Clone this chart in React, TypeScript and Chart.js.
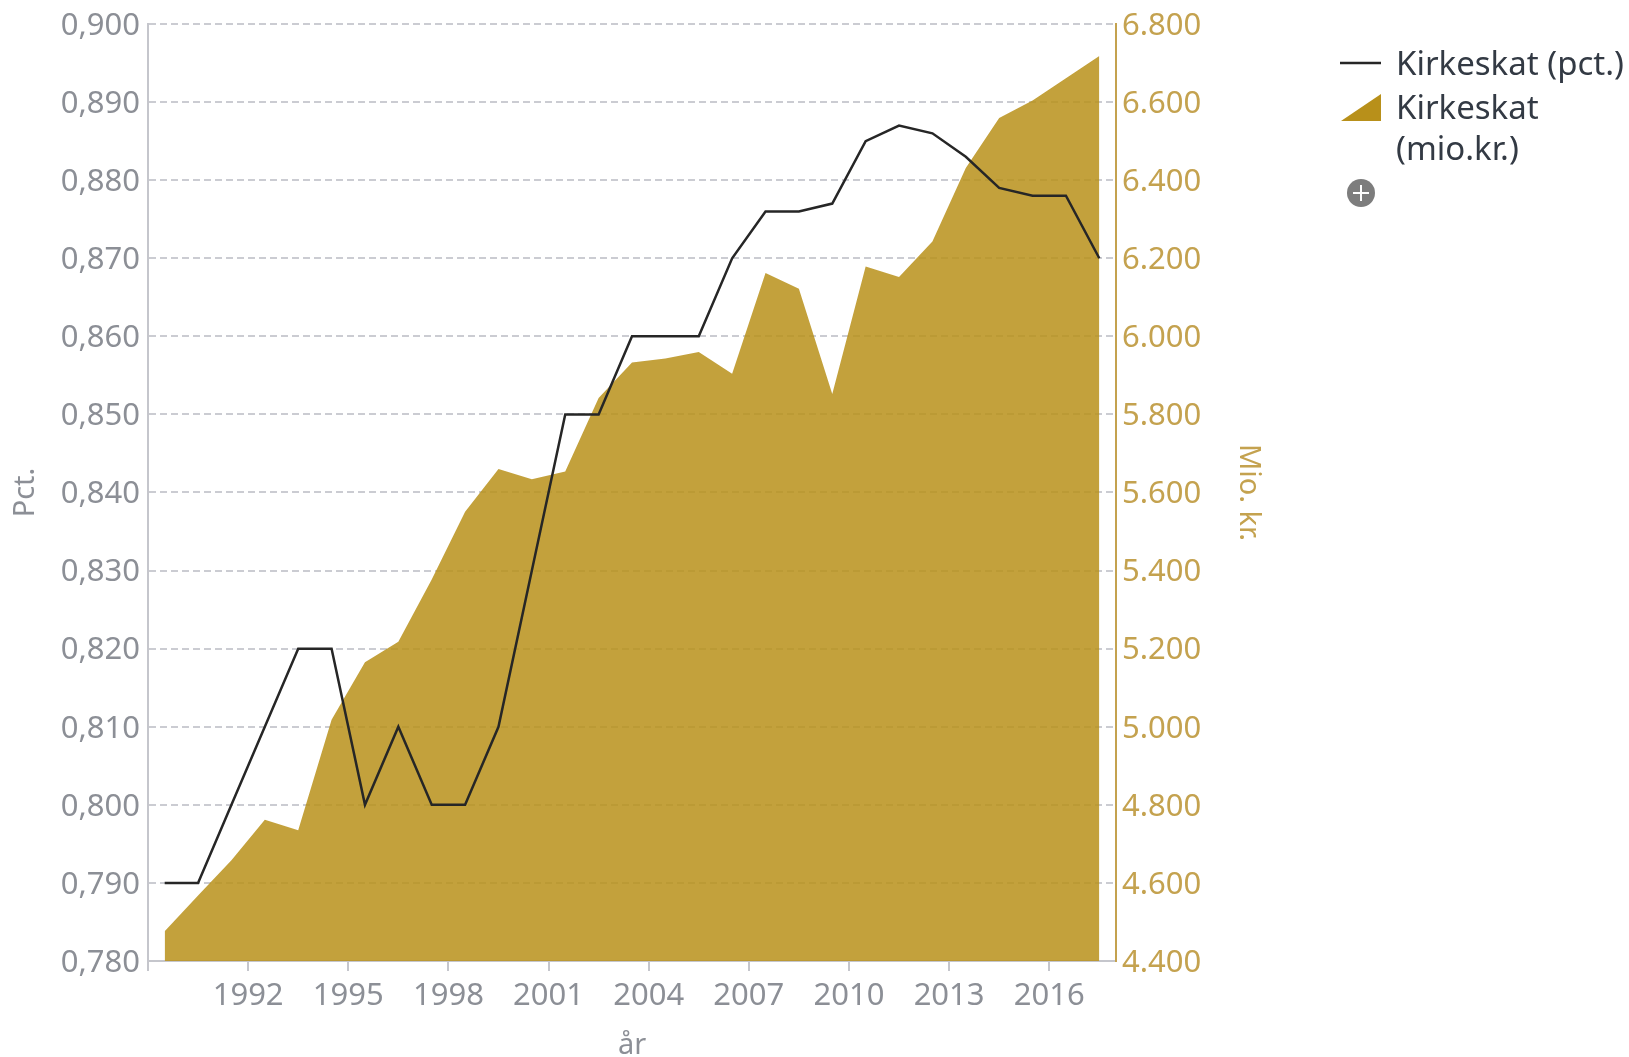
import React, { useEffect, useRef } from "react";
import { Chart, registerables } from "chart.js";

Chart.register(...registerables);

const pointYears = [1989.5,1990.5,1991.5,1992.5,1993.5,1994.5,1995.5,1996.5,1997.5,1998.5,1999.5,2000.5,2001.5,2002.5,2003.5,2004.5,2005.5,2006.5,2007.5,2008.5,2009.5,2010.5,2011.5,2012.5,2013.5,2014.5,2015.5,2016.5,2017.5];
const pctValues = [0.79,0.79,0.8,0.81,0.82,0.82,0.8,0.81,0.8,0.8,0.81,0.83,0.85,0.85,0.86,0.86,0.86,0.87,0.876,0.876,0.877,0.885,0.887,0.886,0.883,0.879,0.878,0.878,0.87];
const mioValues = [4476,4568,4658,4762,4735,5018,5165,5218,5377,5551,5660,5634,5654,5842,5933,5943,5960,5904,6162,6122,5852,6179,6152,6243,6431,6559,6604,6661,6718];
const lineLabel = "Kirkeskat (pct.)";
const areaLabelLines = ["Kirkeskat", "(mio.kr.)"];

const FONT = "'Noto Sans'";
const GRAY = "#8c8f96";
const GOLD = "#c4a24f";

export default function App() {
  const ref = useRef<HTMLCanvasElement>(null);
  useEffect(() => {
    const chart = new Chart(ref.current!, {
      data: {
        datasets: [
          { type: "line", label: lineLabel, yAxisID: "y", order: 0, data: pointYears.map((x, i) => ({ x, y: pctValues[i] })), borderColor: "#262626", borderWidth: 2.5, pointRadius: 0, tension: 0, fill: false },
          { type: "line", label: areaLabelLines.join(" "), yAxisID: "y1", order: 1, data: pointYears.map((x, i) => ({ x, y: mioValues[i] })), borderColor: "rgba(184,144,26,0.85)", backgroundColor: "rgba(184,144,26,0.85)", borderWidth: 0, pointRadius: 0, tension: 0, fill: "start" },
        ],
      },
      options: {
        responsive: false,
        animation: false,
        layout: { padding: { left: 0, right: 359, top: 24, bottom: 0 } },
        plugins: { legend: { display: false }, tooltip: { enabled: false } },
        scales: {
          x: {
            type: "linear", min: 1989, max: 2018,
            afterBuildTicks: (s: any) => { const t = []; for (let v = 1989; v <= 2016; v += 3) t.push({ value: v }); s.ticks = t; },
            afterFit: (s: any) => { s.height = 99; },
            ticks: { autoSkip: false, maxRotation: 0, color: GRAY, font: { family: FONT, size: 31 }, padding: 7, callback: (v: any) => (v === 1989 ? "" : String(v)) },
            grid: { drawOnChartArea: false, drawTicks: true, tickLength: 10, color: "#c5c6cc", lineWidth: 2 },
            border: { color: "#c5c6cc", width: 2 },
            title: { display: true, text: "år", color: GRAY, font: { family: FONT, size: 29, lineHeight: 1 }, padding: 0 },
          },
          y: {
            position: "left", min: 0.78, max: 0.9,
            afterBuildTicks: (s: any) => { const t = []; for (let i = 0; i <= 12; i++) t.push({ value: 0.78 + i * 0.01 }); s.ticks = t; },
            afterFit: (s: any) => { s.width = 148; s.paddingTop = 0; s.paddingBottom = 0; },
            ticks: { color: GRAY, font: { family: FONT, size: 31 }, padding: 8, labelOffset: 2, callback: (v: any) => Number(v).toFixed(3).replace(".", ",") },
            grid: { color: "#cbccd2", lineWidth: 2, drawTicks: false, drawOnChartArea: true },
            border: { color: "#c5c6cc", width: 2, dash: [7, 4] },
            title: { display: true, text: "Pct.", color: GRAY, font: { family: FONT, size: 29 }, padding: { top: 8, bottom: 0 } },
          },
          y1: {
            position: "right", min: 4400, max: 6800,
            afterBuildTicks: (s: any) => { const t = []; for (let v = 4400; v <= 6800; v += 200) t.push({ value: v }); s.ticks = t; },
            afterFit: (s: any) => { s.width = 154; s.paddingTop = 0; s.paddingBottom = 0; },
            ticks: { color: GOLD, font: { family: FONT, size: 31 }, padding: 6, labelOffset: 2, callback: (v: any) => String(v).replace(/\B(?=(\d{3})+$)/, ".") },
            grid: { drawOnChartArea: false, drawTicks: false },
            border: { color: GOLD, width: 2 },
            title: { display: true, text: "Mio. kr.", color: GOLD, font: { family: FONT, size: 29 }, padding: { top: 4, bottom: 0 } },
          },
        },
      },
    } as any);
    return () => chart.destroy();
  }, []);

  const text: React.CSSProperties = { position: "absolute", left: 1396, fontFamily: FONT, fontSize: 33, lineHeight: "40px", color: "#333a44", whiteSpace: "nowrap" };
  return (
    <div style={{ position: "fixed", left: 0, top: 0, width: 1629, height: 1057, background: "#fff", overflow: "hidden" }}>
      <canvas ref={ref} width={1629} height={1060} style={{ display: "block" }} />
      <svg width={1629} height={1057} style={{ position: "absolute", left: 0, top: 0, pointerEvents: "none" }}>
        <line x1={1340} y1={63} x2={1381} y2={63} stroke="#262626" strokeWidth={2.5} />
        <polygon points="1341,121 1381,121 1381,94" fill="#b8901a" />
        <circle cx={1361} cy={193} r={14} fill="#7d7d7d" />
        <line x1={1353} y1={193} x2={1369} y2={193} stroke="#fff" strokeWidth={2} />
        <line x1={1361} y1={185} x2={1361} y2={201} stroke="#fff" strokeWidth={2} />
      </svg>
      <div style={{ ...text, top: 43 }}>{lineLabel}</div>
      <div style={{ ...text, top: 87 }}>{areaLabelLines[0]}</div>
      <div style={{ ...text, top: 128 }}>{areaLabelLines[1]}</div>
    </div>
  );
}
